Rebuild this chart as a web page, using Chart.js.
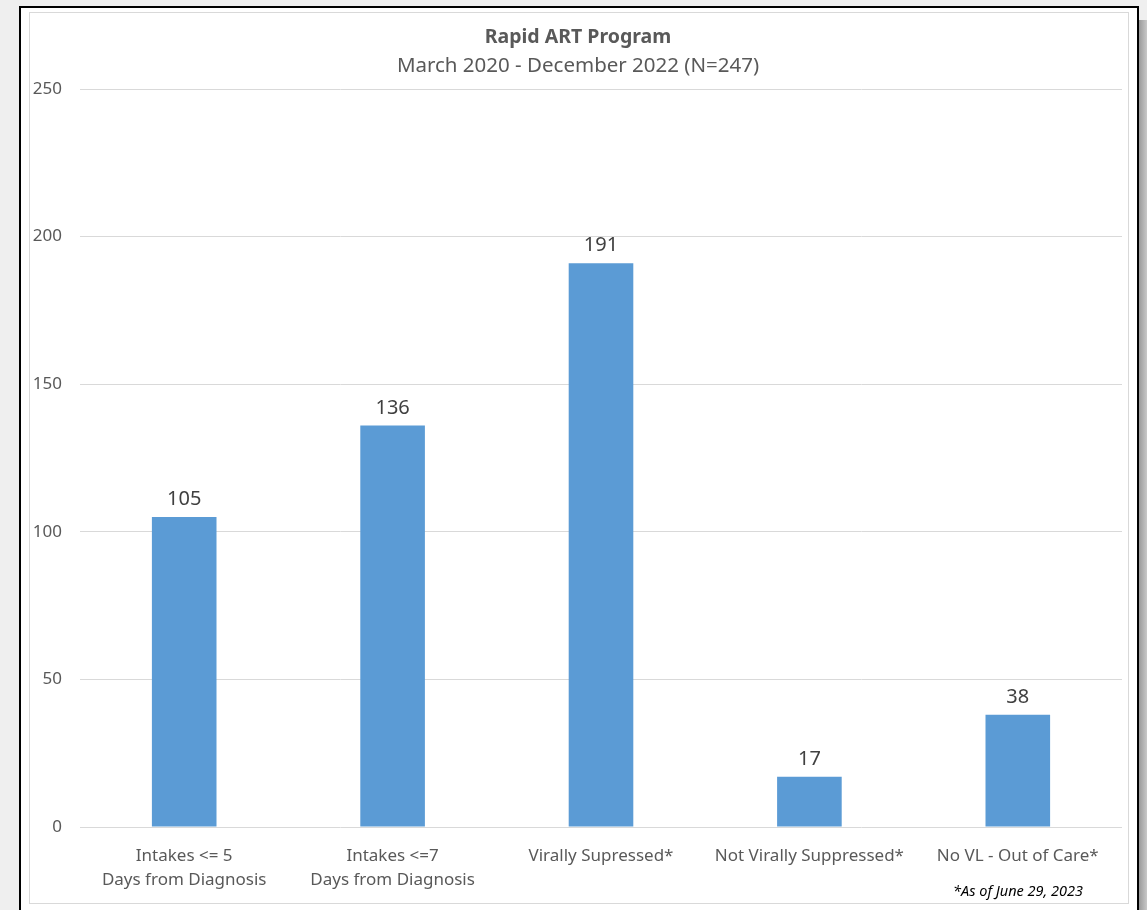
<!DOCTYPE html>
<html>
<head>
<meta charset="utf-8">
<script src="https://cdn.jsdelivr.net/npm/chart.js@4.4.0/dist/chart.umd.min.js"></script>
<style>
  html, body { margin:0; padding:0; width:1147px; height:910px; overflow:hidden; background:#efefef; font-family:"Noto Sans", sans-serif; }
  #outer { position:absolute; left:19px; top:6px; width:1116px; height:920px; border:2px solid #000; background:#fff; }
  #shadow { position:absolute; left:1139px; top:20px; width:8px; height:890px; background:linear-gradient(to right,#9a9a9a,#c8c8c8); }
  #inner { position:absolute; left:29px; top:12px; width:1098px; height:890px; border:1px solid #d9d9d9; }
  #wrap { position:absolute; left:0; top:0; width:1147px; height:910px; }
</style>
</head>
<body>
<div id="shadow"></div>
<div id="outer"></div>
<div id="inner"></div>
<div id="wrap"><canvas id="c" width="1147" height="910"></canvas></div>
<script>
const categories = [
  ["Intakes <= 5", "Days from Diagnosis"],
  ["Intakes <=7", "Days from Diagnosis"],
  "Virally Supressed*",
  "Not Virally Suppressed*",
  "No VL - Out of Care*"
];
const values = [105, 136, 191, 17, 38];
const yTicks = [0, 50, 100, 150, 200, 250];
const titleText = "Rapid ART Program";
const subtitleText = "March 2020 - December 2022 (N=247)";
const footnoteText = "*As of June 29, 2023";

const FONT = "'Noto Sans', sans-serif";
const GRAY = "#595959";

const overlay = {
  id: 'overlay',
  afterDatasetsDraw(chart) {
    const ctx = chart.ctx;
    const meta = chart.getDatasetMeta(0);
    ctx.save();
    ctx.fillStyle = "#404040";
    ctx.font = "20px " + FONT;
    ctx.textAlign = "center";
    ctx.textBaseline = "alphabetic";
    meta.data.forEach((bar, i) => {
      ctx.fillText(String(values[i]), bar.x, bar.y - 12);
    });
    ctx.restore();
  },
  afterDraw(chart) {
    const ctx = chart.ctx;
    ctx.save();
    ctx.fillStyle = GRAY;
    ctx.textAlign = "center";
    ctx.textBaseline = "middle";
    ctx.font = "bold 19.5px " + FONT;
    ctx.fillText(titleText, 578, 37);
    ctx.font = "20.5px " + FONT;
    ctx.fillText(subtitleText, 578, 66);
    ctx.fillStyle = "#000";
    ctx.font = "italic 14.5px " + FONT;
    ctx.textAlign = "right";
    ctx.fillText(footnoteText, 1083, 892);
    ctx.restore();
  }
};

new Chart(document.getElementById('c'), {
  type: 'bar',
  data: {
    labels: categories,
    datasets: [{
      data: values,
      backgroundColor: "#5B9BD5",
      borderWidth: 0,
      categoryPercentage: 1.0,
      barPercentage: 0.31
    }]
  },
  options: {
    responsive: false,
    animation: false,
    devicePixelRatio: 1,
    layout: { padding: { left: 30, right: 25, top: 89, bottom: 0 } },
    plugins: { legend: { display: false }, title: { display: false }, tooltip: { enabled: false } },
    scales: {
      x: {
        grid: { display: false, drawTicks: false },
        border: { display: false },
        ticks: { color: GRAY, font: { family: FONT, size: 17, lineHeight: 1.4 }, padding: 17, maxRotation: 0, autoSkip: false },
        afterFit(scale) { scale.height = 83; }
      },
      y: {
        min: 0, max: 250,
        afterBuildTicks(scale) { scale.ticks = yTicks.map(v => ({ value: v })); },
        grid: { color: "#d9d9d9", lineWidth: 1, drawTicks: false },
        border: { display: false },
        ticks: { color: GRAY, font: { family: FONT, size: 17 }, padding: 18 },
        afterFit(scale) { scale.width = 50; }
      }
    }
  },
  plugins: [overlay]
});
</script>
</body>
</html>
